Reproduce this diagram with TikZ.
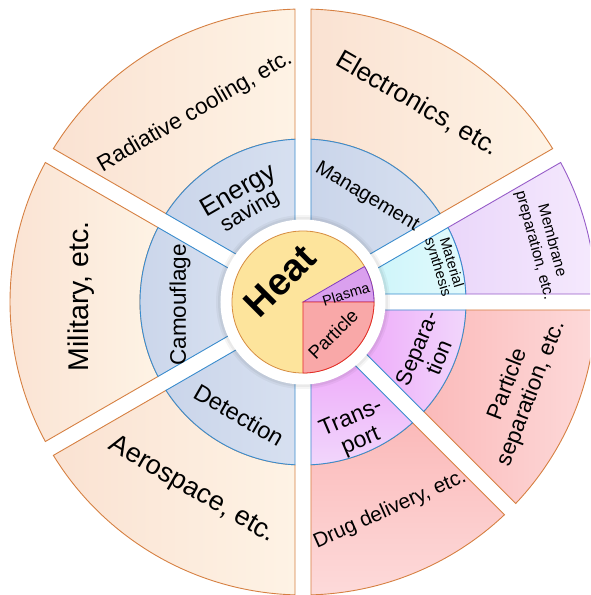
\documentclass[tikz,border=0pt]{standalone}
\usepackage{fontspec}
\setmainfont{Liberation Sans}
\definecolor{peachD}{RGB}{250,226,210}
\definecolor{peachL}{RGB}{254,243,229}
\definecolor{brdO}{RGB}{214,128,66}
\definecolor{blueD}{RGB}{202,213,234}
\definecolor{blueL}{RGB}{215,224,240}
\definecolor{brdB}{RGB}{58,140,205}
\definecolor{violetD}{RGB}{238,172,250}
\definecolor{violetL}{RGB}{241,214,251}
\definecolor{pinkD}{RGB}{251,186,186}
\definecolor{pinkL}{RGB}{253,218,218}
\definecolor{lavD}{RGB}{234,215,250}
\definecolor{lavL}{RGB}{245,233,253}
\definecolor{brdP}{RGB}{150,92,200}
\definecolor{cyanD}{RGB}{206,245,250}
\definecolor{cyanL}{RGB}{226,250,252}
\definecolor{heatY}{RGB}{253,228,156}
\definecolor{heatB}{RGB}{214,140,64}
\definecolor{plasmaV}{RGB}{218,160,238}
\definecolor{plasmaB}{RGB}{130,60,190}
\definecolor{partR}{RGB}{249,168,168}
\definecolor{partB}{RGB}{228,42,42}
\begin{document}
\begin{tikzpicture}[x=1pt,y=1pt,
  % annular sector between angles #1 and #2, radii #3 and #4, trimmed by 8pt-wide half gaps
  sec/.style n args={4}{insert path={
    ({#1+asin(8/#3)}:#3) -- ({#1+asin(8/#4)}:#4)
    arc[start angle={#1+asin(8/#4)}, end angle={#2-asin(8/#4)}, radius=#4]
    -- ({#2-asin(8/#3)}:#3)
    arc[start angle={#2-asin(8/#3)}, end angle={#1+asin(8/#3)}, radius=#3] -- cycle}},
  outerp/.style={draw=brdO, line width=0.9pt, left color=peachD, right color=peachL},
  middleb/.style={draw=brdB, line width=0.9pt, left color=blueD, right color=blueL},
  lab/.style={inner sep=0pt, align=center, text=black},
]
\useasboundingbox (-303,-293) rectangle (287,302);
\clip (-303,-293) rectangle (287,302);

% outer ring
\path[outerp] [sec={30}{90}{163}{293}];
\path[outerp] [sec={90}{150}{163}{293}];
\path[outerp] [sec={150}{210}{163}{293}];
\path[outerp] [sec={210}{270}{163}{293}];
\path[draw=brdO, line width=0.9pt, top color=pinkD, bottom color=pinkL] [sec={270}{315}{163}{293}];
\path[draw=brdO, line width=0.9pt, left color=pinkD, right color=pinkL] [sec={315}{360}{163}{293}];
\path[draw=brdP, line width=0.9pt, left color=lavD, right color=lavL] [sec={0}{30}{163}{293}];

% middle ring
\path[middleb] [sec={30}{90}{78}{163}];
\path[middleb] [sec={90}{150}{78}{163}];
\path[middleb] [sec={150}{210}{78}{163}];
\path[middleb] [sec={210}{270}{78}{163}];
\path[draw=brdB, line width=0.9pt, top color=violetD, bottom color=violetL] [sec={270}{315}{78}{163}];
\path[draw=brdB, line width=0.9pt, left color=violetD, right color=violetL] [sec={315}{360}{78}{163}];
\path[draw=brdB, line width=0.9pt, left color=cyanD, right color=cyanL] [sec={0}{30}{78}{163}];

% white ring with a soft halo
\fill[black, opacity=0.04] (0,0) circle (87);
\fill[black, opacity=0.05] (0,0) circle (85);
\fill[white] (0,0) circle (82.5);

% core
\path[fill=heatY, draw=heatB, line width=0.8pt] (0,0) circle (71);
\path[fill=plasmaV, draw=plasmaB, line width=0.8pt] (0,0) -- (0:71) arc[start angle=0, end angle=30, radius=71] -- cycle;
\path[fill=partR, draw=partB, line width=0.8pt] (0,0) -- (-90:71) arc[start angle=-90, end angle=0, radius=71] -- cycle;

% labels
\node[lab, rotate=45, font=\bfseries\fontsize{38}{40}\selectfont] (heat) at (-23,21) {Heat};
\node[lab, rotate=17, font=\fontsize{14.5}{15}\selectfont] (plasma) at (43,8) {Plasma};
\node[lab, rotate=45, font=\fontsize{18.5}{19}\selectfont] (particle) at (30,-32) {Particle};

\node[lab, rotate=-30, font=\fontsize{26}{28}\selectfont] (electronics) at (60:229) {Electronics, etc.};
\node[lab, rotate=30, font=\fontsize{22.5}{24}\selectfont] (radiative) at (119.6:218.5) {Radiative cooling, etc.};
\node[lab, rotate=90, font=\fontsize{28.5}{30}\selectfont] (military) at (178.5:222) {Military, etc.};
\node[lab, rotate=-30, font=\fontsize{27}{29}\selectfont] (aerospace) at (-111,-188) {Aerospace, etc.};
\node[lab, rotate=24, font=\fontsize{20.6}{23}\selectfont] (drug) at (87,-208) {Drug delivery, etc.};
\node[lab, rotate=69, font=\fontsize{22.5}{25}\selectfont] (psep) at (217,-87) {Particle\\separation, etc.};
\node[lab, rotate=-75, font=\fontsize{15.5}{18}\selectfont] (membrane) at (240,59) {Membrane\\preparation, etc.};

\node[lab, rotate=30, font=\fontsize{22}{20}\selectfont] (energy) at (-59,101) {{\fontsize{26}{20}\selectfont Energy}\\saving};
\node[lab, rotate=-31, font=\fontsize{20}{22}\selectfont] (management) at (64,105) {Management};
\node[lab, rotate=-73, font=\fontsize{14.5}{14}\selectfont] (material) at (141,37) {Material\\synthesis};
\node[lab, rotate=90, font=\fontsize{22.5}{24}\selectfont] (camouflage) at (-123,-3) {Camouflage};
\node[lab, rotate=-30, font=\fontsize{23.5}{25}\selectfont] (detection) at (-64,-113) {Detection};
\node[lab, rotate=67.5, font=\fontsize{22}{24}\selectfont] (separation) at (124.5,-51) {Separa-\\tion};
\node[lab, rotate=23, font=\fontsize{23}{25}\selectfont] (transport) at (53,-128) {Trans-\\port};
\end{tikzpicture}
\end{document}
